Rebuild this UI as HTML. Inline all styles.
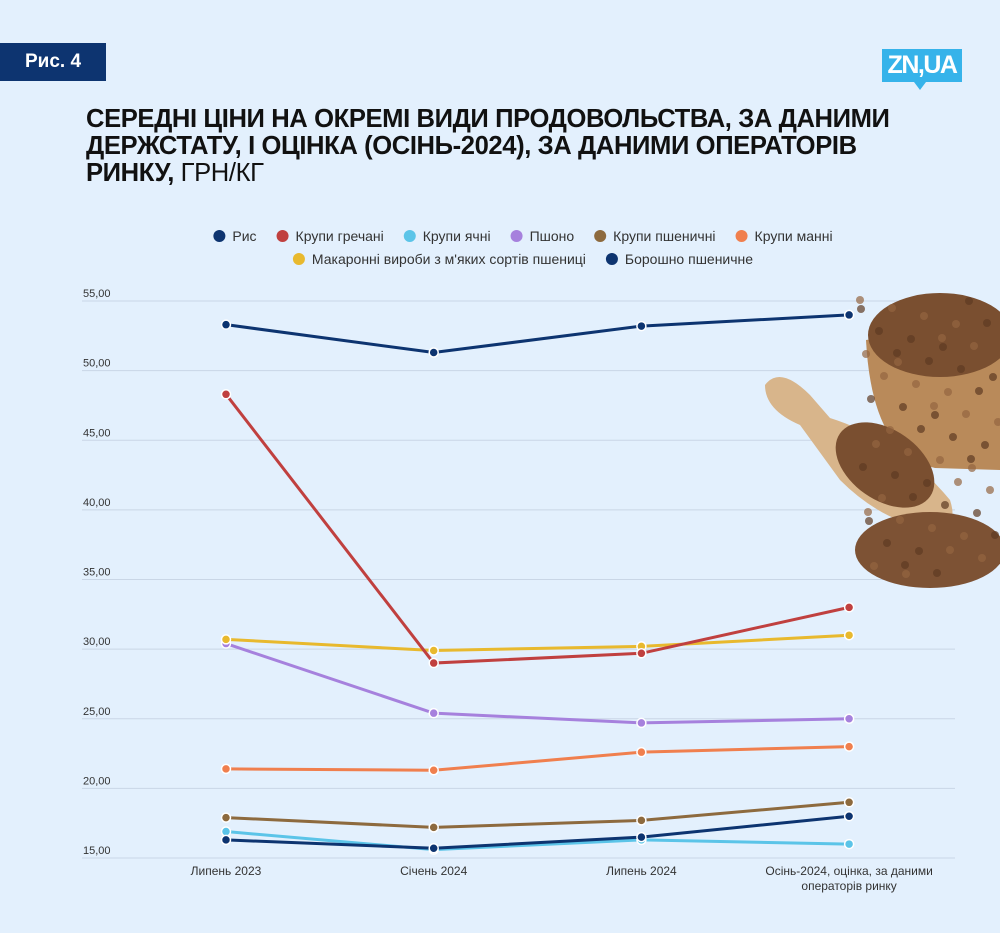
<!DOCTYPE html>
<html><head><meta charset="utf-8"><style>
body{margin:0;width:1000px;height:933px;background:#e3f0fd;font-family:"Liberation Sans","DejaVu Sans",sans-serif;position:relative;overflow:hidden}
.badge{position:absolute;left:0;top:43px;width:106px;height:38px;background:#0d3470;color:#fff;font-weight:bold;font-size:19px;line-height:38px;text-align:center}
.logo{position:absolute;left:882px;top:49px;width:80px;height:33px;background:#36b3ea;color:#fff;font-weight:bold;font-size:25px;line-height:33px;text-align:center;letter-spacing:-1.5px}
.logo:after{content:"";position:absolute;left:32px;bottom:-8px;border-left:6px solid transparent;border-right:6px solid transparent;border-top:8px solid #36b3ea}
h1{position:absolute;left:86px;top:106px;margin:0;font-size:25.6px;line-height:27px;font-weight:bold;color:#111;white-space:nowrap;letter-spacing:-0.4px}
h1 span{font-weight:normal}
svg{position:absolute;left:0;top:0}
</style></head><body>
<div class="badge">Рис. 4</div>
<div class="logo">ZN,UA</div>
<h1>СЕРЕДНІ ЦІНИ НА ОКРЕМІ ВИДИ ПРОДОВОЛЬСТВА, ЗА ДАНИМИ<br>ДЕРЖСТАТУ, І ОЦІНКА (ОСІНЬ-2024), ЗА ДАНИМИ ОПЕРАТОРІВ<br>РИНКУ, <span>ГРН/КГ</span></h1>
<svg id="chart" width="1000" height="933"></svg>
<script>
const categories=["Липень 2023","Січень 2024","Липень 2024","Осінь-2024, оцінка, за даними|операторів ринку"];
const yTicks=[15,20,25,30,35,40,45,50,55];
const seriesNames=["Рис","Крупи гречані","Крупи ячні","Пшоно","Крупи пшеничні","Крупи манні","Макаронні вироби з м'яких сортів пшениці","Борошно пшеничне"];
const seriesColors=["#0d3470","#c0403f","#5bc4e8","#a681dd","#8d6a3e","#f07f4e","#e8b92e","#0d3470"];
const rice=[53.3,51.3,53.2,54.0];
const buckwheat=[48.3,29.0,29.7,33.0];
const barley=[16.9,15.6,16.3,16.0];
const millet=[30.4,25.4,24.7,25.0];
const wheatGroats=[17.9,17.2,17.7,19.0];
const semolina=[21.4,21.3,22.6,23.0];
const pasta=[30.7,29.9,30.2,31.0];
const flour=[16.3,15.7,16.5,18.0];
const seriesValues=[rice,buckwheat,barley,millet,wheatGroats,semolina,pasta,flour];
const drawOrder=[2,4,5,3,6,1,7,0];
const ns="http://www.w3.org/2000/svg",svg=document.getElementById('chart');
const y=v=>858-(v-15)*(557/40);
const x=i=>226+i*207.7;
function mk(t,a,p){const e=document.createElementNS(ns,t);for(const k in a)e.setAttribute(k,a[k]);(p||svg).appendChild(e);return e;}
// grid & y labels
yTicks.forEach(t=>{const g=mk('line',{x1:82,x2:955,y1:y(t),y2:y(t),stroke:"#c9d6e6","stroke-width":1});

const l=mk('text',{x:83,y:y(t)-4,"font-size":11,fill:"#333"});l.textContent=t.toFixed(2).replace('.',',');
});
// decorative buckwheat image
const img=mk('g',{});


mk('path',{d:"M866 340 Q872 455 935 468 L1000 470 L1000 320 Z",fill:"#b98a5a"},img);
mk('ellipse',{cx:940,cy:335,rx:72,ry:42,fill:"#7a4f30"},img);
mk('path',{d:"M765 385 Q780 365 810 395 L830 418 Q900 440 950 500 Q960 530 930 530 Q880 520 840 480 L800 425 Q765 410 765 385Z",fill:"#d8b58b"},img);
mk('ellipse',{cx:885,cy:465,rx:55,ry:35,fill:"#7a4f30",transform:"rotate(35 885 465)"},img);
mk('ellipse',{cx:930,cy:550,rx:75,ry:38,fill:"#7d5234"},img);
for(let i=0;i<60;i++){const cx=860+((i*37)%140),cy=300+((i*53)%280);mk('circle',{cx,cy,r:4,fill:i%2?"#5e3a22":"#946540",opacity:0.7},img);}
categories.forEach((c,i)=>{c.split('|').forEach((s,j)=>{const t=mk('text',{x:x(i),y:875+j*15,"font-size":12,fill:"#333","text-anchor":"middle"});t.textContent=s;
});});
// series
drawOrder.forEach(s=>{const vals=seriesValues[s];const g=mk('g',{});

mk('polyline',{points:vals.map((v,i)=>x(i)+','+y(v)).join(' '),fill:"none",stroke:seriesColors[s],"stroke-width":3},g);
vals.forEach((v,i)=>{const p=mk('circle',{cx:x(i),cy:y(v),r:4.5,fill:seriesColors[s],stroke:"#fff","stroke-width":1.5},g);
});});
// legend
const rows=[[0,1,2,3,4,5],[6,7]];
rows.forEach((r,ri)=>{const cy=236+ri*23;const gs=[];let tw=0;
r.forEach(s=>{const g=mk('g',{});
mk('circle',{cx:6,cy:cy,r:6,fill:seriesColors[s]},g);const t=mk('text',{x:19,y:cy+5,"font-size":14,fill:"#333"},g);t.textContent=seriesNames[s];
const w=19+t.getComputedTextLength();gs.push([g,w]);tw+=w;});
tw+=20*(gs.length-1);let cx=523-tw/2;
gs.forEach(([g,w])=>{g.setAttribute('transform','translate('+cx+',0)');cx+=w+20;});});
</script>
</body></html>
